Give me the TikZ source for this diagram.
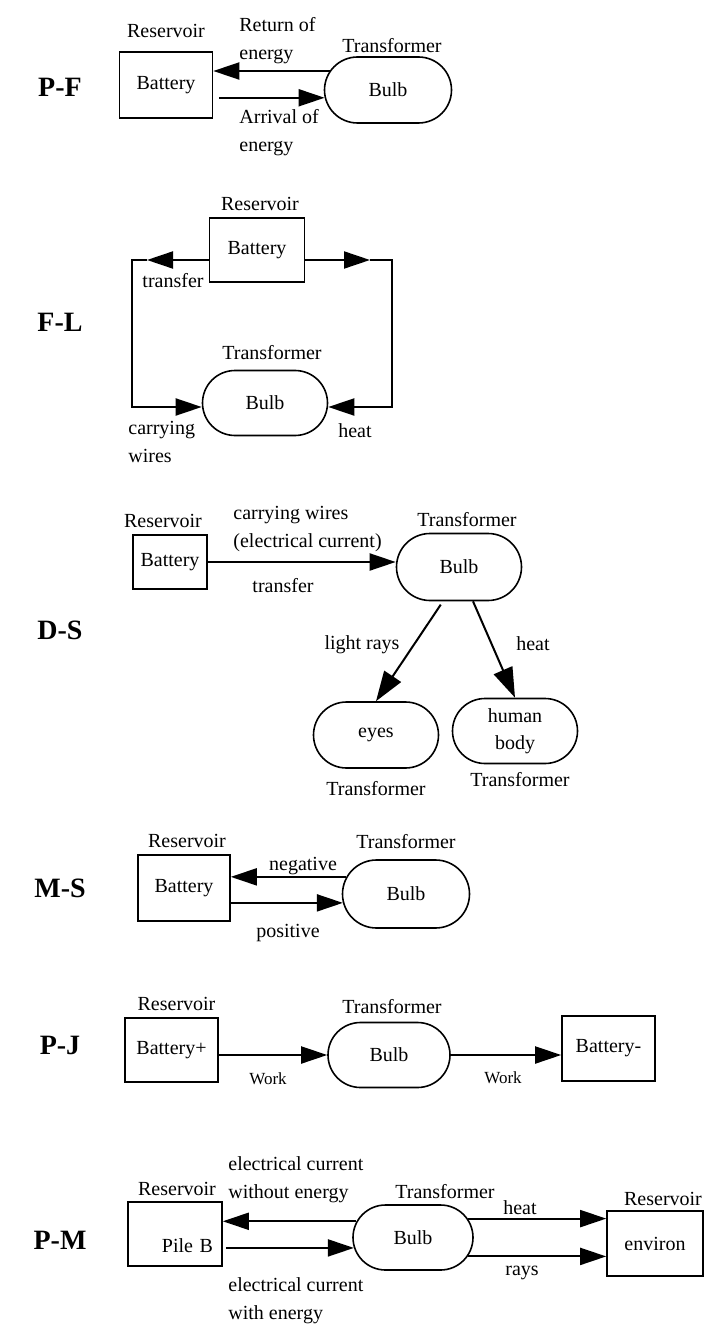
\documentclass[tikz,border=0pt]{standalone}
\usepackage{fontspec}
\setmainfont{Liberation Serif}
\usetikzlibrary{arrows.meta, positioning, shapes.misc}

\begin{document}
\begin{tikzpicture}[
    x=0.5pt, y=-0.5pt,
    reservoir/.style={rectangle, draw, line width=0.8pt, inner sep=0pt},
    transformer/.style={rounded rectangle, draw, line width=0.8pt, inner sep=0pt},
    role/.style={inner sep=1pt},
    edgetext/.style={inner sep=1pt, align=left, font=\fontsize{10}{14}\selectfont},
    worktext/.style={inner sep=1pt, font=\fontsize{8.5}{10}\selectfont},
    casename/.style={font=\fontsize{14}{16}\selectfont\bfseries},
    flow/.style={-{Triangle[length=13pt, width=8.5pt]}, line width=1pt},
    flowbig/.style={-{Triangle[length=15pt, width=10pt]}, line width=1pt}
]
    \useasboundingbox (0,0) rectangle (711,1326);

    % P-F
    \node[casename] (pf) at (60,87) {P-F};
    \node[reservoir, minimum width=46.5pt, minimum height=33pt] (bat1) at (166,85) {Battery};
    \node[transformer, minimum width=63.5pt, minimum height=33pt] (bulb1) at (388,90) {Bulb};
    \node[role, above=5.5pt of bat1] (res1) {Reservoir};
    \node[role, above=0.5pt of bulb1, xshift=2pt] (tra1) {Transformer};
    \draw[flow] (bulb1.162) -- (bulb1.162 -| bat1.east);
    \draw[flow, shorten <=3pt] (bulb1.187 -| bat1.east) -- (bulb1.187);
    \node[edgetext, anchor=west] (ret1) at (237,41) {Return of\\energy};
    \node[edgetext, anchor=west] (arr1) at (237,133) {Arrival of\\energy};

    % F-L
    \node[casename] (fl) at (60,322) {F-L};
    \node[reservoir, minimum width=47.5pt, minimum height=32pt] (bat2) at (257,250) {Battery};
    \node[transformer, minimum width=62.5pt, minimum height=32.5pt] (bulb2) at (265,403) {Bulb};
    \node[role, above=2pt of bat2, xshift=1.5pt] (res2) {Reservoir};
    \node[role, above=4pt of bulb2, xshift=3.5pt] (tra2) {Transformer};
    \coordinate (fl1) at (132,260);
    \coordinate (fl1tip) at (147,260);
    \coordinate (fl2) at (132,407);
    \coordinate (fr1) at (392,260);
    \coordinate (fr1tip) at (370,260);
    \coordinate (fr2) at (392,407);
    \draw[flow] (bat2.west |- fl1) -- (fl1tip);
    \draw[flow] (fl1tip) -- (fl1) -- (fl2) -- (bulb2.west |- fl2);
    \draw[flow] (bat2.east |- fr1) -- (fr1tip);
    \draw[flow] (fr1tip) -- (fr1) -- (fr2) -- (bulb2.east |- fr2);
    \node[role] (tf2) at (173,281) {transfer};
    \node[edgetext, anchor=west] (cw2) at (126,442) {carrying\\wires};
    \node[role] (ht2) at (355,431) {heat};

    % D-S
    \node[casename] (ds) at (60,630) {D-S};
    \node[reservoir, minimum width=37pt, minimum height=27pt] (bat3) at (170,562) {Battery};
    \node[transformer, minimum width=62.5pt, minimum height=33.5pt] (bulb3) at (459,567) {Bulb};
    \node[transformer, minimum width=62.5pt, minimum height=33pt] (eyes) at (376,735) {eyes};
    \node[transformer, minimum width=62.5pt, minimum height=32.5pt, align=center,
          font=\fontsize{10}{13.5}\selectfont] (body) at (515,731) {human\\body};
    \node[role, above=2pt of bat3, xshift=-3.5pt] (res3) {Reservoir};
    \node[role, above=2pt of bulb3, xshift=4pt] (tra3) {Transformer};
    \node[role, below=5pt of eyes] (tra3e) {Transformer};
    \node[role, below=3pt of body, xshift=2.5pt] (tra3b) {Transformer};
    \draw[flow] (bat3.east) -- (bat3.east -| bulb3.west);
    \draw[flowbig, shorten <=2pt] ([xshift=-8pt]bulb3.south) -- (eyes.north);
    \draw[flowbig] ([xshift=7pt]bulb3.south) -- (body.north);
    \node[edgetext, anchor=west] (cw3) at (231,529) {carrying wires\\(electrical current)};
    \node[role] (tf3) at (283,586) {transfer};
    \node[role] (lr3) at (362,645) {light rays};
    \node[role] (ht3) at (533,644) {heat};

    % M-S
    \node[casename] (ms) at (60,888) {M-S};
    \node[reservoir, minimum width=46pt, minimum height=33pt] (bat4) at (184,888) {Battery};
    \node[transformer, minimum width=63.5pt, minimum height=34pt] (bulb4) at (406,894) {Bulb};
    \node[role, above=2pt of bat4, xshift=1.5pt] (res4) {Reservoir};
    \node[role, above=4pt of bulb4] (tra4) {Transformer};
    \draw[flow] (bulb4.164) -- (bulb4.164 -| bat4.east);
    \draw[flow] (bulb4.188 -| bat4.east) -- (bulb4.188);
    \node[role] (ng4) at (303,866) {negative};
    \node[role] (ps4) at (288,933) {positive};

    % P-J
    \node[casename] (pj) at (60,1045) {P-J};
    \node[reservoir, minimum width=46.5pt, minimum height=32pt] (bat5) at (171.5,1050) {Battery+};
    \node[transformer, minimum width=61pt, minimum height=32.5pt] (bulb5) at (389,1055) {Bulb};
    \node[reservoir, minimum width=46.5pt, minimum height=32.5pt] (bat6) at (608.5,1048.5) {Battery-};
    \node[role, above=2pt of bat5, xshift=2.5pt] (res5) {Reservoir};
    \node[role, above=3pt of bulb5, xshift=1.5pt] (tra5) {Transformer};
    \draw[flow] (bat5.east |- bulb5.west) -- (bulb5.west);
    \draw[flow] (bulb5.east) -- (bulb5.east -| bat6.west);
    \node[worktext] (wk5a) at (268,1079) {Work};
    \node[worktext] (wk5b) at (503,1078) {Work};

    % P-M
    \node[casename] (pm) at (60,1240) {P-M};
    \node[reservoir, minimum width=47pt, minimum height=32pt, text width=38pt, align=right,
          text height=18.8pt, text depth=0pt] (pile) at (175,1234) {Pile B};
    \node[transformer, minimum width=60pt, minimum height=32.5pt] (bulb6) at (413,1237.5) {Bulb};
    \node[reservoir, minimum width=48pt, minimum height=32.5pt] (env) at (655,1243.5) {environ};
    \node[role, above=1.5pt of pile, xshift=1pt] (res6) {Reservoir};
    \node[role, above=1.5pt of bulb6, xshift=16pt] (tra6) {Transformer};
    \node[role, above=1pt of env, xshift=4pt] (res6e) {Reservoir};
    \draw[flow] (bulb6.164) -- (bulb6.164 -| pile.east);
    \draw[flow, shorten <=1.5pt] (bulb6.190 -| pile.east) -- (bulb6.190);
    \draw[flow] (bulb6.19) -- (bulb6.19 -| env.west);
    \draw[flow] (bulb6.-19) -- (bulb6.-19 -| env.west);
    \node[edgetext, anchor=west] (wo6) at (226,1180) {electrical current\\without energy};
    \node[edgetext, anchor=west] (wi6) at (226,1301) {electrical current\\with energy};
    \node[role] (ht6) at (520,1208) {heat};
    \node[role] (ry6) at (522,1273) {rays};

\end{tikzpicture}
\end{document}
